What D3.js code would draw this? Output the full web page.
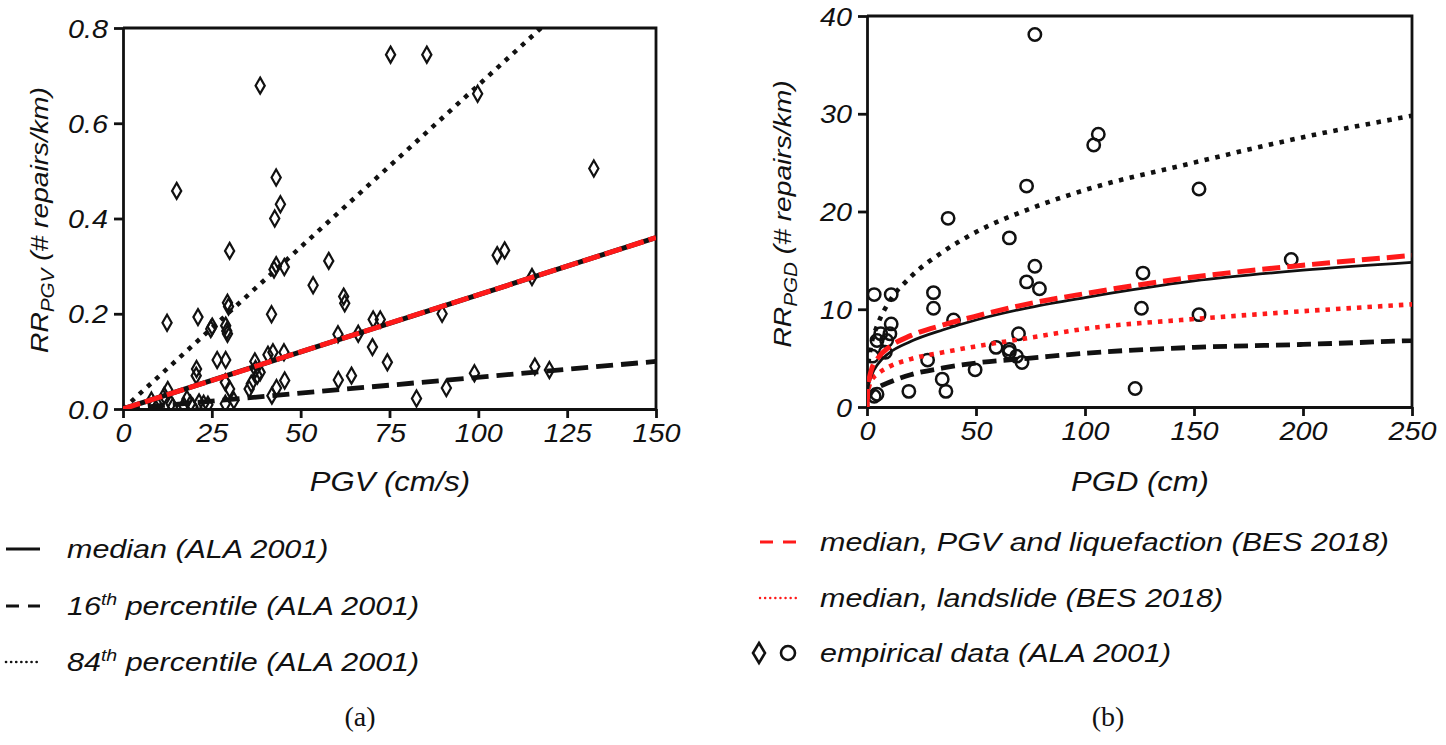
<!DOCTYPE html>
<html>
<head>
<meta charset="utf-8">
<script src="https://cdn.jsdelivr.net/npm/d3@7"></script>
<style>
  body { margin: 0; background: #fff; }
  svg text { font-family: "Liberation Sans", Arial, sans-serif; font-style: italic; fill: #111; }
  svg text.cap { font-family: "Liberation Serif", "Times New Roman", serif; font-style: normal; }
</style>
</head>
<body>
<svg id="fig" width="1446" height="745"></svg>
<script>
// ---- (a) empirical data, PGV (cm/s) vs RR (repairs/km)
var pgvX = [75.3, 85.5, 38.6, 99.8, 15.1, 132.5, 43.1, 44.3, 42.7, 30.0, 57.9, 43.1, 42.5, 45.4,
  105.3, 107.4, 115.1, 53.5, 62.1, 62.4, 29.4, 29.7, 12.4, 21.1, 41.8, 24.7, 25.1, 28.9, 29.2, 29.4,
  70.4, 72.4, 89.8, 60.5, 66.2, 70.2, 74.4, 26.5, 28.9, 37.1, 40.8, 42.2, 45.3, 20.7, 20.6, 37.3,
  37.8, 38.6, 60.6, 64.3, 45.5, 98.9, 115.9, 120.0, 91.0, 82.6, 43.2, 41.9, 35.5, 36.1, 28.8, 30.0,
  31.2, 28.8, 12.6, 11.6, 8.0, 8.6, 13.5, 18.0, 19.0, 21.4, 22.7, 9.8, 14.0, 17.1, 19.6, 23.9];
var pgvY = [0.744, 0.744, 0.679, 0.662, 0.458, 0.505, 0.486, 0.430, 0.400, 0.332, 0.311, 0.302, 0.293, 0.298,
  0.323, 0.333, 0.277, 0.260, 0.236, 0.222, 0.223, 0.215, 0.181, 0.193, 0.199, 0.168, 0.173, 0.175, 0.164, 0.158,
  0.188, 0.188, 0.200, 0.157, 0.158, 0.130, 0.098, 0.103, 0.103, 0.100, 0.114, 0.119, 0.119, 0.084, 0.070, 0.084,
  0.070, 0.077, 0.061, 0.070, 0.060, 0.075, 0.089, 0.082, 0.044, 0.022, 0.044, 0.028, 0.042, 0.053, 0.056, 0.042,
  0.018, 0.011, 0.040, 0.028, 0.018, 0.009, 0.011, 0.021, 0.011, 0.014, 0.011, 0.007, 0.005, 0.007, 0.005, 0.009];

// (a) fitted lines, read at the ends
var aMedX = [0, 150], aMedY = [0, 0.36];
var a16X = [0, 150], a16Y = [0, 0.10];
var a84X = [0, 150], a84Y = [0, 1.02];

// ---- (b) empirical data, PGD (cm) vs RR (repairs/km)
var pgdX = [77.0, 104.0, 106.1, 73.2, 152.3, 37.2, 65.3, 77.0, 73.2, 79.1, 194.6, 126.6, 125.9, 152.3,
  30.5, 30.5, 3.3, 11.1, 11.1, 10.5, 6.3, 4.6, 9.0, 2.5, 8.4, 39.7, 59.2, 65.3, 65.3, 69.5, 68.6, 71.1,
  27.8, 49.6, 34.5, 36.2, 19.2, 123.0, 3.3, 4.6];
var pgdY = [38.1, 26.8, 27.9, 22.6, 22.3, 19.3, 17.3, 14.4, 12.8, 12.1, 15.1, 13.7, 10.1, 9.45,
  11.7, 10.1, 11.5, 11.5, 8.5, 7.5, 7.5, 6.8, 6.8, 5.2, 5.6, 8.9, 6.1, 5.9, 5.6, 7.5, 5.2, 4.55,
  4.8, 3.8, 2.85, 1.6, 1.6, 1.9, 1.1, 1.3];

// (b) curves
var curveX = [0, 0.5, 1, 2, 5, 10, 20, 35, 50, 75, 100, 150, 200, 250];
var bMed   = [0, 2.0, 2.5, 3.2, 4.4, 5.5, 6.7, 7.9, 8.9, 10.2, 11.2, 12.9, 14.0, 14.8];
var bBes   = [0, 2.3, 2.9, 3.8, 5.0, 6.1, 7.3, 8.4, 9.3, 10.6, 11.6, 13.3, 14.5, 15.5];
var bSlide = [0, 1.6, 2.1, 2.7, 3.4, 4.1, 4.9, 5.6, 6.2, 7.1, 8.0, 9.0, 9.8, 10.5];
var b16    = [0, 0.8, 1.1, 1.5, 2.0, 2.5, 3.3, 4.0, 4.5, 5.0, 5.5, 6.1, 6.4, 6.8];
var b84    = [0, 4.1, 5.1, 6.4, 8.5, 10.7, 13.3, 15.9, 17.9, 20.3, 22.2, 25.0, 27.6, 29.8];

var aXTicks = [0, 25, 50, 75, 100, 125, 150];
var aYTicks = [0, 0.2, 0.4, 0.6, 0.8];
var bXTicks = [0, 50, 100, 150, 200, 250];
var bYTicks = [0, 10, 20, 30, 40];

var svg = d3.select("#fig");
var SX = 1.15; // the source figure is stretched sideways a bit

function zip(xs, ys) { return xs.map(function (d, i) { return [d, ys[i]]; }); }

function txt(g, x, y, s, size, anchor) {
  return g.append("text")
    .attr("transform", "translate(" + x + "," + y + ") scale(" + SX + ",1)")
    .attr("font-size", size)
    .attr("text-anchor", anchor || "start")
    .text(s);
}

function panel(id, xDom, xRange, yDom, yRange, xTicks, yTicks, yFmt) {
  var x = d3.scaleLinear().domain(xDom).range(xRange);
  var y = d3.scaleLinear().domain(yDom).range(yRange);
  var g = svg.append("g");
  g.append("clipPath").attr("id", id)
    .append("rect").attr("x", xRange[0]).attr("y", yRange[1])
    .attr("width", xRange[1] - xRange[0]).attr("height", yRange[0] - yRange[1]);

  var xa = g.append("g").attr("transform", "translate(0," + yRange[0] + ")")
    .call(d3.axisBottom(x).tickValues(xTicks).tickSize(9).tickPadding(6).tickSizeOuter(0));
  var ya = g.append("g").attr("transform", "translate(" + xRange[0] + ",0)")
    .call(d3.axisLeft(y).tickValues(yTicks).tickFormat(yFmt).tickSize(9).tickPadding(4).tickSizeOuter(0));
  [xa, ya].forEach(function (a) {
    a.selectAll("path, line").attr("stroke", "#111").attr("stroke-width", 2.8);
    a.selectAll("text").attr("font-size", 25).attr("fill", "#111")
      .attr("font-family", "'Liberation Sans', Arial, sans-serif").attr("font-style", "italic");
  });
  xa.selectAll("text").attr("transform", "scale(" + SX + ",1)").attr("dy", "0.74em");
  ya.selectAll("text").attr("transform", "scale(" + SX + ",1)").attr("dy", "0.36em");
  // top and right frame
  g.append("path")
    .attr("d", "M" + xRange[0] + "," + yRange[1] + "H" + xRange[1] + "V" + yRange[0])
    .attr("fill", "none").attr("stroke", "#111").attr("stroke-width", 2.8);
  var plot = g.append("g").attr("clip-path", "url(#" + id + ")");
  return { x: x, y: y, g: g, plot: plot };
}

// ---------- panel (a)
var A = panel("clipA", [0, 150], [123, 656], [0, 0.8], [409, 28], aXTicks, aYTicks, d3.format(".1f"));
var lineA = d3.line().x(function (d) { return A.x(d[0]); }).y(function (d) { return A.y(d[1]); });

A.plot.selectAll("path.dia").data(zip(pgvX, pgvY)).enter().append("path")
  .attr("class", "dia")
  .attr("d", "M0,-8L4.6,0L0,8L-4.6,0Z")
  .attr("transform", function (d) { return "translate(" + A.x(d[0]) + "," + A.y(d[1]) + ")"; })
  .attr("fill", "none").attr("stroke", "#111").attr("stroke-width", 2.2);

A.plot.append("path").attr("d", lineA(zip(a84X, a84Y)))
  .attr("fill", "none").attr("stroke", "#111").attr("stroke-width", 4.5)
  .attr("stroke-dasharray", "4.5,6.5");
A.plot.append("path").attr("d", lineA(zip(a16X, a16Y)))
  .attr("fill", "none").attr("stroke", "#111").attr("stroke-width", 4.8)
  .attr("stroke-dasharray", "17,8");
A.plot.append("path").attr("d", lineA(zip(aMedX, aMedY)))
  .attr("fill", "none").attr("stroke", "#111").attr("stroke-width", 5);
A.plot.append("path").attr("d", lineA(zip(aMedX, aMedY)))
  .attr("fill", "none").attr("stroke", "#ff1a1a").attr("stroke-width", 5)
  .attr("stroke-dasharray", "18,5");

// axis titles (a)
txt(svg, 390, 491, "PGV (cm/s)", 27, "middle");
var yla = svg.append("text")
  .attr("transform", "translate(48,220) rotate(-90) scale(" + SX + ",1)")
  .attr("font-size", 24.5).attr("text-anchor", "middle");
yla.append("tspan").text("RR");
yla.append("tspan").attr("font-size", 18).attr("dy", 6).text("PGV");
yla.append("tspan").attr("dy", -6).text(" (# repairs/km)");

// ---------- panel (b)
var B = panel("clipB", [0, 250], [867, 1412], [0, 40], [407, 16], bXTicks, bYTicks, d3.format("d"));
var lineB = d3.line().curve(d3.curveMonotoneX)
  .x(function (d) { return B.x(d[0]); }).y(function (d) { return B.y(d[1]); });

B.plot.selectAll("circle.emp").data(zip(pgdX, pgdY)).enter().append("circle")
  .attr("class", "emp")
  .attr("cx", function (d) { return B.x(d[0]); })
  .attr("cy", function (d) { return B.y(d[1]); })
  .attr("r", 6.2).attr("fill", "none").attr("stroke", "#111").attr("stroke-width", 2.5);

B.plot.append("path").attr("d", lineB(zip(curveX, b84)))
  .attr("fill", "none").attr("stroke", "#111").attr("stroke-width", 4.6)
  .attr("stroke-dasharray", "4.5,6.5");
B.plot.append("path").attr("d", lineB(zip(curveX, b16)))
  .attr("fill", "none").attr("stroke", "#111").attr("stroke-width", 4.8)
  .attr("stroke-dasharray", "14,7").attr("stroke-dashoffset", -6);
B.plot.append("path").attr("d", lineB(zip(curveX, bSlide)))
  .attr("fill", "none").attr("stroke", "#ff1a1a").attr("stroke-width", 4.6)
  .attr("stroke-dasharray", "4.5,6").attr("stroke-dashoffset", -8);
B.plot.append("path").attr("d", lineB(zip(curveX, bMed)))
  .attr("fill", "none").attr("stroke", "#111").attr("stroke-width", 2.8);
B.plot.append("path").attr("d", lineB(zip(curveX, bBes)))
  .attr("fill", "none").attr("stroke", "#ff1a1a").attr("stroke-width", 5)
  .attr("stroke-dasharray", "18,7");

txt(svg, 1140, 491, "PGD (cm)", 27, "middle");
var ylb = svg.append("text")
  .attr("transform", "translate(791,214) rotate(-90) scale(" + SX + ",1)")
  .attr("font-size", 24.5).attr("text-anchor", "middle");
ylb.append("tspan").text("RR");
ylb.append("tspan").attr("font-size", 18).attr("dy", 6).text("PGD");
ylb.append("tspan").attr("dy", -6).text(" (# repairs/km)");

// ---------- legends
var lg = svg.append("g");
var legA = [
  { y: 549, dash: null, txt: ["median (ALA 2001)"] },
  { y: 606, dash: "13,9", txt: ["16", "th", " percentile (ALA 2001)"] },
  { y: 662, dash: "0.1,5", txt: ["84", "th", " percentile (ALA 2001)"] }
];
legA.forEach(function (r) {
  var l = lg.append("line").attr("x1", 6).attr("x2", 40).attr("y1", r.y).attr("y2", r.y)
    .attr("stroke", "#111").attr("stroke-width", r.dash === "0.1,5" ? 2.6 : 3);
  if (r.dash) l.attr("stroke-dasharray", r.dash);
  if (r.dash === "0.1,5") l.attr("stroke-linecap", "round");
  var t = txt(lg, 67, r.y + 9, "", 26.5);
  t.append("tspan").text(r.txt[0]);
  if (r.txt.length > 1) {
    t.append("tspan").attr("font-size", 17).attr("dy", -10).text(r.txt[1]);
    t.append("tspan").attr("dy", 10).text(r.txt[2]);
  }
});

lg.append("line").attr("x1", 760).attr("x2", 796).attr("y1", 542).attr("y2", 542)
  .attr("stroke", "#ff1a1a").attr("stroke-width", 3).attr("stroke-dasharray", "13,10");
lg.append("line").attr("x1", 760).attr("x2", 797).attr("y1", 598).attr("y2", 598)
  .attr("stroke", "#ff1a1a").attr("stroke-width", 2.4).attr("stroke-linecap", "round")
  .attr("stroke-dasharray", "0.1,5");
lg.append("path").attr("d", "M0,-10L6,0L0,10L-6,0Z")
  .attr("transform", "translate(759,653)")
  .attr("fill", "none").attr("stroke", "#111").attr("stroke-width", 2.6);
lg.append("circle").attr("cx", 788).attr("cy", 653).attr("r", 7)
  .attr("fill", "none").attr("stroke", "#111").attr("stroke-width", 2.6);
txt(lg, 820, 551, "median, PGV and liquefaction (BES 2018)", 26.5);
txt(lg, 820, 607, "median, landslide (BES 2018)", 26.5);
txt(lg, 820, 662, "empirical data (ALA 2001)", 26.5);

svg.append("text").attr("class", "cap").attr("x", 360).attr("y", 726)
  .attr("font-size", 28).attr("text-anchor", "middle").text("(a)");
svg.append("text").attr("class", "cap").attr("x", 1108).attr("y", 726)
  .attr("font-size", 28).attr("text-anchor", "middle").text("(b)");
</script>
</body>
</html>
